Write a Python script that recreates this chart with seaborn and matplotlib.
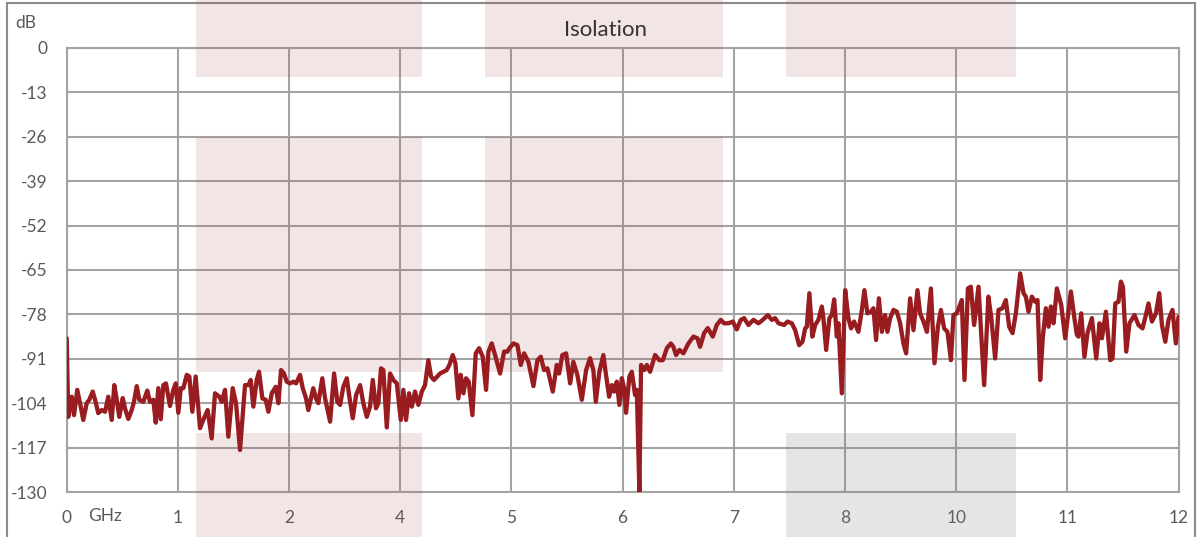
import matplotlib
matplotlib.use("Agg")
import matplotlib.pyplot as plt
from matplotlib.patches import Rectangle
import seaborn as sns

# x is the position on the chart (one unit per grid column), labelled below
freq_pos = [
    0.000, 0.014, 0.045, 0.066, 0.095, 0.120, 0.149, 0.180, 0.203, 0.234,
    0.255, 0.284, 0.315, 0.345, 0.374, 0.405, 0.428, 0.450, 0.473, 0.504,
    0.524, 0.554, 0.585, 0.605, 0.630, 0.653, 0.689, 0.725, 0.749, 0.779,
    0.801, 0.824, 0.846, 0.869, 0.893, 0.929, 0.959, 0.981, 1.004, 1.026,
    1.049, 1.080, 1.103, 1.130, 1.160, 1.199, 1.235, 1.268, 1.304, 1.334,
    1.373, 1.394, 1.424, 1.454, 1.493, 1.523, 1.559, 1.604, 1.634, 1.655,
    1.679, 1.709, 1.730, 1.760, 1.790, 1.814, 1.844, 1.880, 1.904, 1.928,
    1.955, 1.979, 2.009, 2.039, 2.063, 2.099, 2.123, 2.153, 2.173, 2.218,
    2.243, 2.263, 2.299, 2.324, 2.369, 2.405, 2.434, 2.459, 2.488, 2.519,
    2.549, 2.573, 2.603, 2.639, 2.668, 2.699, 2.728, 2.753, 2.782, 2.803,
    2.827, 2.848, 2.879, 2.908, 2.938, 2.969, 3.005, 3.028, 3.052, 3.079,
    3.104, 3.133, 3.163, 3.194, 3.223, 3.253, 3.277, 3.304, 3.358, 3.418,
    3.442, 3.472, 3.496, 3.523, 3.544, 3.568, 3.592, 3.616, 3.649, 3.679,
    3.709, 3.742, 3.772, 3.793, 3.823, 3.853, 3.898, 3.934, 3.964, 3.982,
    4.018, 4.054, 4.084, 4.114, 4.153, 4.198, 4.234, 4.264, 4.294, 4.324,
    4.372, 4.408, 4.429, 4.458, 4.492, 4.528, 4.557, 4.593, 4.633, 4.672,
    4.707, 4.737, 4.759, 4.791, 4.827, 4.849, 4.879, 4.903, 4.924, 4.948,
    4.971, 4.993, 5.013, 5.031, 5.061, 5.083, 5.112, 5.128, 5.151, 5.166,
    5.196, 5.218, 5.247, 5.292, 5.331, 5.362, 5.398, 5.434, 5.457, 5.481,
    5.511, 5.547, 5.592, 5.637, 5.673, 5.697, 5.733, 5.766, 5.811, 5.847,
    5.883, 5.913, 5.952, 5.991, 6.027, 6.063, 6.093, 6.132, 6.177, 6.222,
    6.261, 6.306, 6.342, 6.372, 6.402, 6.453, 6.483, 6.522, 6.552, 6.588,
    6.618, 6.642, 6.657, 6.680, 6.707, 6.732, 6.761, 6.792, 6.806, 6.831,
    6.860, 6.882, 6.903, 6.927, 6.941, 6.972, 7.002, 7.031, 7.055, 7.082,
    7.121, 7.152, 7.175, 7.202, 7.233, 7.256, 7.280, 7.305, 7.332, 7.361,
    7.382, 7.406, 7.436, 7.467, 7.496, 7.526, 7.550, 7.586, 7.616, 7.652,
    7.676, 7.706, 7.737, 7.773, 7.805, 7.836, 7.863, 7.892, 7.922, 7.953,
    7.976, 8.006, 8.051, 8.075, 8.106, 8.132, 8.162, 8.201, 8.252, 8.290,
    8.315, 8.351, 8.381, 8.417, 8.447, 8.477, 8.507, 8.537, 8.576, 8.606,
    8.627, 8.651, 8.681, 8.711, 8.732, 8.756, 8.780, 8.807, 8.831, 8.852,
    8.876, 8.906, 8.945, 8.981, 9.032, 9.062, 9.086, 9.100, 9.125, 9.154,
    9.181, 9.221, 9.260, 9.290, 9.311, 9.347, 9.386, 9.407, 9.431, 9.460,
    9.482, 9.500, 9.530, 9.559, 9.604, 9.640, 9.676, 9.700, 9.730, 9.761,
    9.797, 9.827, 9.851, 9.881, 9.910, 9.946, 9.976, 10.000,
]

isolation_db = [
    -85.0, -108.0, -102.1, -107.5, -100.1, -104.0, -108.9, -104.0, -103.0, -100.6,
    -103.0, -106.9, -106.0, -106.5, -102.1, -108.9, -98.7, -103.0, -108.0, -102.5,
    -105.5, -108.6, -106.0, -103.6, -99.0, -103.0, -103.6, -100.3, -103.6, -103.0,
    -109.7, -99.6, -108.7, -98.7, -98.2, -104.8, -100.1, -98.2, -106.8, -99.6,
    -99.6, -95.7, -96.2, -106.5, -96.2, -111.3, -108.4, -106.0, -114.3, -101.1,
    -102.1, -103.6, -100.1, -113.8, -99.6, -104.0, -117.7, -98.7, -98.7, -97.2,
    -105.0, -97.2, -94.8, -102.6, -103.0, -106.5, -101.1, -99.2, -104.0, -94.3,
    -95.3, -97.7, -98.2, -97.7, -98.2, -95.7, -99.6, -102.6, -106.0, -99.6,
    -102.6, -104.0, -96.7, -102.6, -109.4, -95.3, -103.6, -104.5, -99.2, -96.7,
    -103.6, -108.4, -101.6, -98.7, -104.0, -108.0, -105.0, -97.2, -105.5, -104.0,
    -93.8, -94.3, -111.1, -95.3, -97.2, -98.2, -108.9, -100.1, -108.9, -101.1,
    -105.0, -100.6, -104.5, -100.6, -98.7, -91.4, -96.2, -97.2, -95.3, -94.3,
    -92.8, -89.9, -92.3, -102.6, -95.7, -101.1, -96.7, -97.7, -107.5, -89.4,
    -87.9, -90.4, -100.1, -88.9, -86.5, -89.9, -95.3, -88.9, -88.9, -87.9,
    -86.5, -87.0, -92.8, -89.4, -91.9, -99.0, -91.4, -90.4, -94.3, -93.8,
    -100.6, -92.8, -95.3, -89.9, -89.4, -98.2, -91.9, -95.7, -103.0, -94.3,
    -90.8, -94.3, -103.6, -94.8, -89.9, -95.3, -102.1, -98.7, -100.6, -97.7,
    -104.5, -96.7, -99.6, -106.8, -96.2, -94.8, -101.6, -100.1, -129.9, -92.8,
    -94.3, -92.8, -94.8, -89.9, -91.4, -91.4, -87.9, -86.5, -87.5, -89.9,
    -88.4, -89.4, -86.5, -84.5, -85.0, -87.5, -83.5, -82.0, -84.5, -81.1,
    -79.6, -80.6, -80.6, -80.1, -82.4, -79.6, -79.1, -81.1, -79.6, -80.6,
    -79.6, -78.2, -79.6, -79.1, -80.6, -81.1, -80.1, -80.6, -82.6, -87.0,
    -86.0, -82.1, -81.6, -71.8, -84.5, -81.1, -79.6, -75.7, -79.1, -88.4,
    -79.1, -78.2, -73.6, -84.5, -80.6, -101.1, -70.9, -79.1, -82.1, -80.1,
    -83.1, -76.7, -70.9, -77.7, -77.2, -76.2, -85.5, -73.3, -83.1, -78.2,
    -83.1, -79.1, -76.7, -77.2, -80.6, -86.5, -89.4, -73.3, -82.6, -70.9,
    -77.7, -80.1, -83.1, -70.4, -92.3, -81.6, -76.7, -82.1, -83.1, -91.4,
    -78.2, -77.7, -73.8, -97.2, -70.4, -69.9, -81.1, -69.9, -98.7, -72.8,
    -78.7, -90.9, -76.7, -76.2, -73.8, -81.6, -83.5, -77.7, -66.0, -71.8,
    -72.8, -77.2, -72.8, -74.3, -73.8, -97.2, -84.5, -76.2, -81.6, -75.7,
    -80.6, -70.4, -75.2, -85.0, -71.3, -78.7, -84.0, -84.5, -77.7, -90.4,
    -83.5, -79.1, -90.9, -80.6, -85.0, -77.2, -91.4, -90.9, -74.8, -74.3,
    -68.4, -69.9, -88.9, -80.6, -78.2, -81.1, -82.1, -79.1, -74.8, -80.1,
    -77.7, -71.8, -81.1, -86.0, -79.6, -76.7, -86.5, -78.7,
]

x_tick_labels = ["0", "1", "2", "4", "5", "6", "7", "8", "10", "11", "12"]
y_ticks = [0, -13, -26, -39, -52, -65, -78, -91, -104, -117, -130]

# shaded limit zones (x span in chart units, dB span)
band_left = [1.163, 3.763, 6.471]
band_right = [3.196, 5.907, 8.536]
top_zone = (-8.4, 14.5)
mid_zone = (-94.8, -26.2)
low_zone = (-143.5, -112.7)

line_color = "#991c20"
grid_color = "#a3a3a3"
text_color = "#595959"
pink = (168 / 255, 75 / 255, 75 / 255, 0.14)
grey = (0.5, 0.5, 0.5, 0.2)

sns.set_theme(style="white")
plt.rcParams["font.family"] = ["Lato", "DejaVu Sans"]

W, H = 1198, 537
fig = plt.figure(figsize=(W / 100, H / 100), dpi=100)
ax = fig.add_axes([66.7 / W, 1 - 492 / H, (1178.5 - 66.7) / W, 444 / H])

# outer frame of the chart
fig.patches.append(Rectangle((7 / W, -0.05), (1195 - 7) / W, 1.05 - 3 / H,
                             transform=fig.transFigure, fill=False,
                             edgecolor="#8c8c8c", linewidth=1.5, zorder=-1))

sns.lineplot(x=freq_pos, y=isolation_db, color=line_color, linewidth=3.1,
             estimator=None, sort=False, ax=ax, zorder=5,
             solid_joinstyle="round", solid_capstyle="round")

# limit zones
zones = [
    (0, top_zone, pink), (1, top_zone, pink), (2, top_zone, pink),
    (0, mid_zone, pink), (1, mid_zone, pink),
    (0, low_zone, pink), (2, low_zone, grey),
]
for i, (lo, hi), col in zones:
    ax.add_patch(Rectangle((band_left[i], lo), band_right[i] - band_left[i], hi - lo,
                           facecolor=col, edgecolor="none", clip_on=False, zorder=3))

ax.set_xlim(0, 10)
ax.set_ylim(-130, 0)
ax.set_xticks(range(len(x_tick_labels)))
ax.set_xticklabels(x_tick_labels)
ax.set_yticks(y_ticks)
ax.set_yticklabels([str(v) for v in y_ticks])
ax.tick_params(axis="both", length=0, labelsize=12.5, colors=text_color)
ax.tick_params(axis="x", pad=13)
ax.tick_params(axis="y", pad=14)

ax.set_axisbelow(True)
ax.grid(True, color=grid_color, linewidth=1.5)
for s in ax.spines.values():
    s.set_visible(True)
    s.set_color(grid_color)
    s.set_linewidth(1.5)
ax.set_xlabel("")
ax.set_ylabel("")

ax.text(0.345, -134.6, "GHz", ha="center", va="top", fontsize=12.5, color=text_color)
fig.text(15 / W, 1 - 28 / H, "dB", ha="left", va="baseline", fontsize=12.5, color=text_color)
fig.text(605.5 / W, 1 - 29.5 / H, "Isolation", ha="center", va="center", fontsize=16,
         color="#3a3030")

fig.savefig("out.png", dpi=100)
